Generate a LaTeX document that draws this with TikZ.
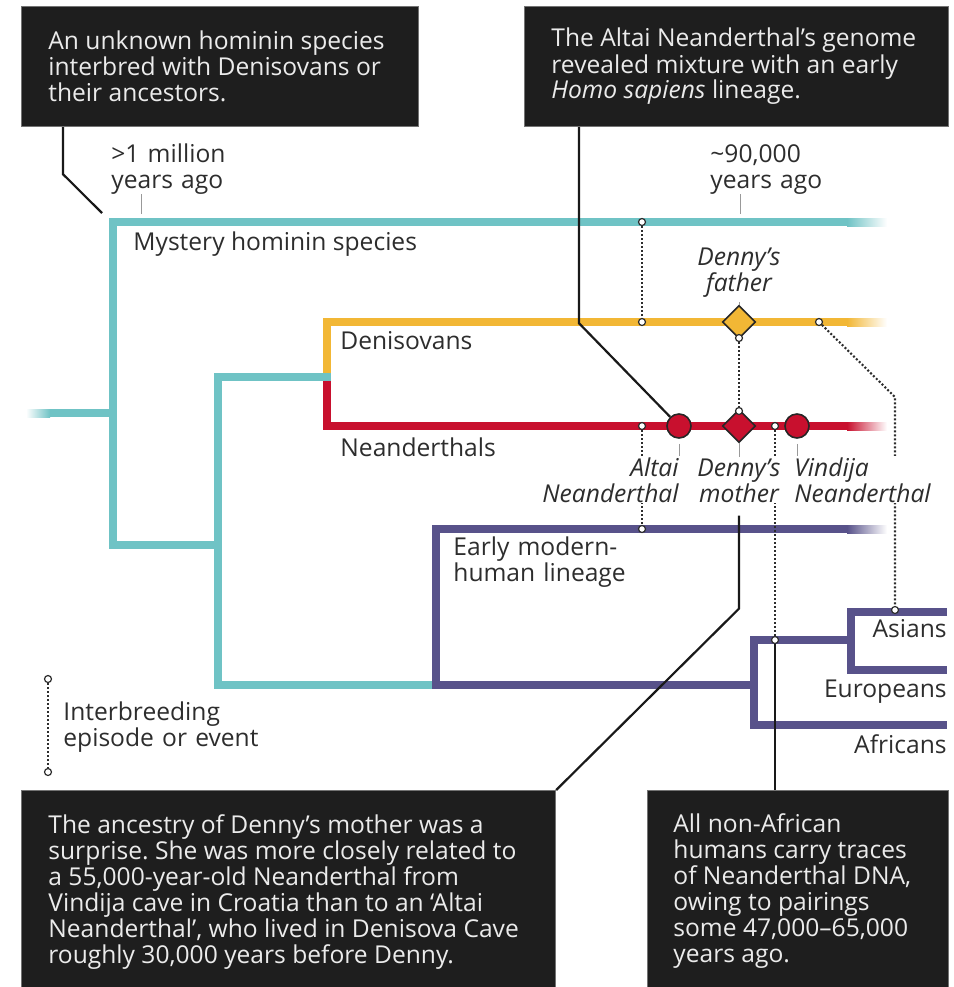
\documentclass[tikz,border=0pt]{standalone}
\usepackage{fontspec}
\setmainfont{Open Sans}
\usepackage{tikz}
\usetikzlibrary{shapes.geometric}
\frenchspacing

\definecolor{mystery}{RGB}{111,195,197}
\definecolor{deni}{RGB}{242,183,53}
\definecolor{neand}{RGB}{200,16,46}
\definecolor{human}{RGB}{88,82,138}
\definecolor{boxbg}{RGB}{30,30,30}
\definecolor{ink}{RGB}{45,45,45}

\tikzset{
  branch/.style={line width=4pt, line join=miter},
  interb/.style={ink, line width=1.05pt, dash pattern=on 1pt off 1pt},
  ev/.style={circle, draw=ink, fill=white, line width=0.6pt, inner sep=0pt, minimum size=3.5pt},
  fossil/.style={circle, draw=black!85, fill=neand, line width=0.8pt, inner sep=0pt, minimum size=12pt},
  genome/.style={diamond, draw=black!85, line width=0.8pt, inner sep=0pt, minimum width=16.5pt, minimum height=16.5pt},
  lab/.style={text=ink, font=\fontsize{12.3}{13}\selectfont, inner sep=0pt},
  evlab/.style={lab, font=\fontsize{12.3}{13}\selectfont\itshape, fill=white, inner sep=0.5pt},
  tick/.style={draw=black!40, line width=0.5pt},
  callout/.style={draw=black!90, line width=1.1pt},
  infobox/.style={fill=boxbg, draw=black!55, line width=0.6pt, anchor=north west, inner sep=0pt},
  boxtext/.style={text=white!92!black, font=\fontsize{12.3}{13}\selectfont, align=left, inner sep=0pt, anchor=west}
}

\begin{document}
\begin{tikzpicture}[x=0.5pt, y=-0.5pt]
\useasboundingbox (0,0) rectangle (954,987);

% lineages
\draw[branch, neand] (847,426) -| (327,377);
\draw[branch, deni] (847,322) -| (327,377);
\draw[branch, mystery] (847,222) -| (113,545) -- (218,545);
\draw[branch, mystery] (50,413) -- (113,413);
\draw[branch, mystery] (331,377) -| (218,685) -- (436,685);
\draw[branch, human] (847,529) -| (436,685) -- (754,685);
\draw[branch, human] (851,640) -| (754,725) -- (947,725);
\draw[branch, human] (947,612) -| (851,670) -- (947,670);

\shade[left color=mystery, right color=white] (847,218) rectangle (887,226);
\shade[left color=deni, right color=white] (847,318) rectangle (887,326);
\shade[left color=neand, right color=white] (847,422) rectangle (887,430);
\shade[left color=human, right color=white] (847,525) rectangle (887,533);
\shade[left color=white, right color=mystery] (26,409) rectangle (50,417);

% genomes and fossils
\node[genome, fill=deni] (dad) at (739,322) {};
\node[genome, fill=neand] (mom) at (739,426) {};
\node[fossil] (alt) at (679,426) {};
\node[fossil] (vin) at (797,426) {};

% interbreeding
\node[ev] (e1) at (642,222) {};
\node[ev] (e2) at (642,322) {};
\node[ev] (e3) at (739,338) {};
\node[ev] (e4) at (739,411) {};
\node[ev] (e5) at (819,322) {};
\node[ev] (e6) at (895,610) {};
\node[ev] (e7) at (642,426) {};
\node[ev] (e8) at (642,529) {};
\node[ev] (e9) at (775,426) {};
\node[ev] (e10) at (775,640) {};
\coordinate (bend) at (895,397);
\draw[interb] (e1) -- (e2);
\draw[interb] (e3) -- (e4);
\draw[interb] (e5) -- (bend) -- (e6);
\draw[interb] (e7) -- (e8);
\draw[interb] (e9) -- (e10);

% labels
\node[lab, anchor=base west, text width=60pt] (mill) at (111,162) {>1 million\\years ago};
\node[lab, anchor=base west, text width=60pt] (ninety) at (710,162) {\textasciitilde90,000\\years ago};
\node[lab, anchor=base west] (myslab) at (133,250) {Mystery hominin species};
\node[lab, anchor=base west] (denlab) at (340,349) {Denisovans};
\node[lab, anchor=base west] (neanlab) at (340,456) {Neanderthals};
\node[lab, anchor=base west, text width=100pt] (early) at (453,555) {Early modern-\\human lineage};
\node[lab, anchor=base east] (asia) at (947,637) {Asians};
\node[lab, anchor=base east] (euro) at (947,697) {Europeans};
\node[lab, anchor=base east] (afr) at (947,753) {Africans};

\node[evlab, anchor=base, text width=50pt, align=center] (dadlab) at (739,265) {Denny’s\\father};
\node[evlab, anchor=base east, text width=72pt, align=right] (altlab) at (680,476) {Altai\\Neanderthal};
\node[evlab, anchor=base, text width=48pt, align=center] (momlab) at (739,476) {Denny’s\\mother};
\node[evlab, anchor=base west, text width=72pt, align=left] (vinlab) at (793,476) {Vindija\\Neanderthal};

\draw[tick] ([xshift=15pt]mill.south west) -- ++(0,20);
\draw[tick] ([xshift=15pt]ninety.south west) -- ++(0,20);
\draw[tick] ([yshift=-2pt]dadlab.south) -- (dad.north);
\draw[tick] ([yshift=-2.5pt]alt.south) -- (alt |- altlab.north);
\draw[tick] (mom.south) -- (mom |- momlab.north);
\draw[tick] ([yshift=-2.5pt]vin.south) -- (vin |- vinlab.north);

% legend
\node[ev] (l1) at (48,679) {};
\node[ev] (l2) at (48,772) {};
\draw[interb] (l1) -- (l2);
\node[lab, anchor=base west, text width=100pt] (legend) at (63,720) {Interbreeding\\episode or event};

% boxes
\node[infobox, minimum width=198.5pt, minimum height=60pt] (unkbox) at (21,6) {};
\node[boxtext] (unktext) at ([xshift=13.5pt]unkbox.west) {An unknown hominin species\\interbred with Denisovans or\\their ancestors.};
\node[infobox, minimum width=212pt, minimum height=60pt] (altbox) at (524,6) {};
\node[boxtext] (alttext) at ([xshift=13.5pt]altbox.west) {The Altai Neanderthal’s genome\\revealed mixture with an early\\\textit{Homo sapiens} lineage.};
\node[infobox, minimum width=267pt, minimum height=98.5pt] (mombox) at (21,790) {};
\node[boxtext] (momtext) at ([xshift=13.5pt, yshift=-1.5pt]mombox.west) {The ancestry of Denny’s mother was a\\surprise. She was more closely related to\\a 55,000-year-old Neanderthal from\\Vindija cave in Croatia than to an ‘Altai\\Neanderthal’, who lived in Denisova Cave\\roughly 30,000 years before Denny.};
\node[infobox, minimum width=150.5pt, minimum height=98.5pt] (nonafbox) at (647,790) {};
\node[boxtext] (nonaftext) at ([xshift=13pt, yshift=-1pt]nonafbox.west) {All non-African\\humans carry traces\\of Neanderthal DNA,\\owing to pairings\\some 47,000–65,000\\years ago.};

% callouts
\coordinate (mysend) at (102,213);
\draw[callout] ([xshift=21pt]unkbox.south west) -- ++(0,47) -- (mysend);
\draw[callout] ([xshift=27.5pt]altbox.south west) -- ++(0,196) -- (alt);
\draw[callout] ([yshift=-6pt]momlab.south) -- ++(0,93) -- (mombox.north east);
\draw[callout] (e10) -- (e10 |- nonafbox.north);
\end{tikzpicture}
\end{document}
